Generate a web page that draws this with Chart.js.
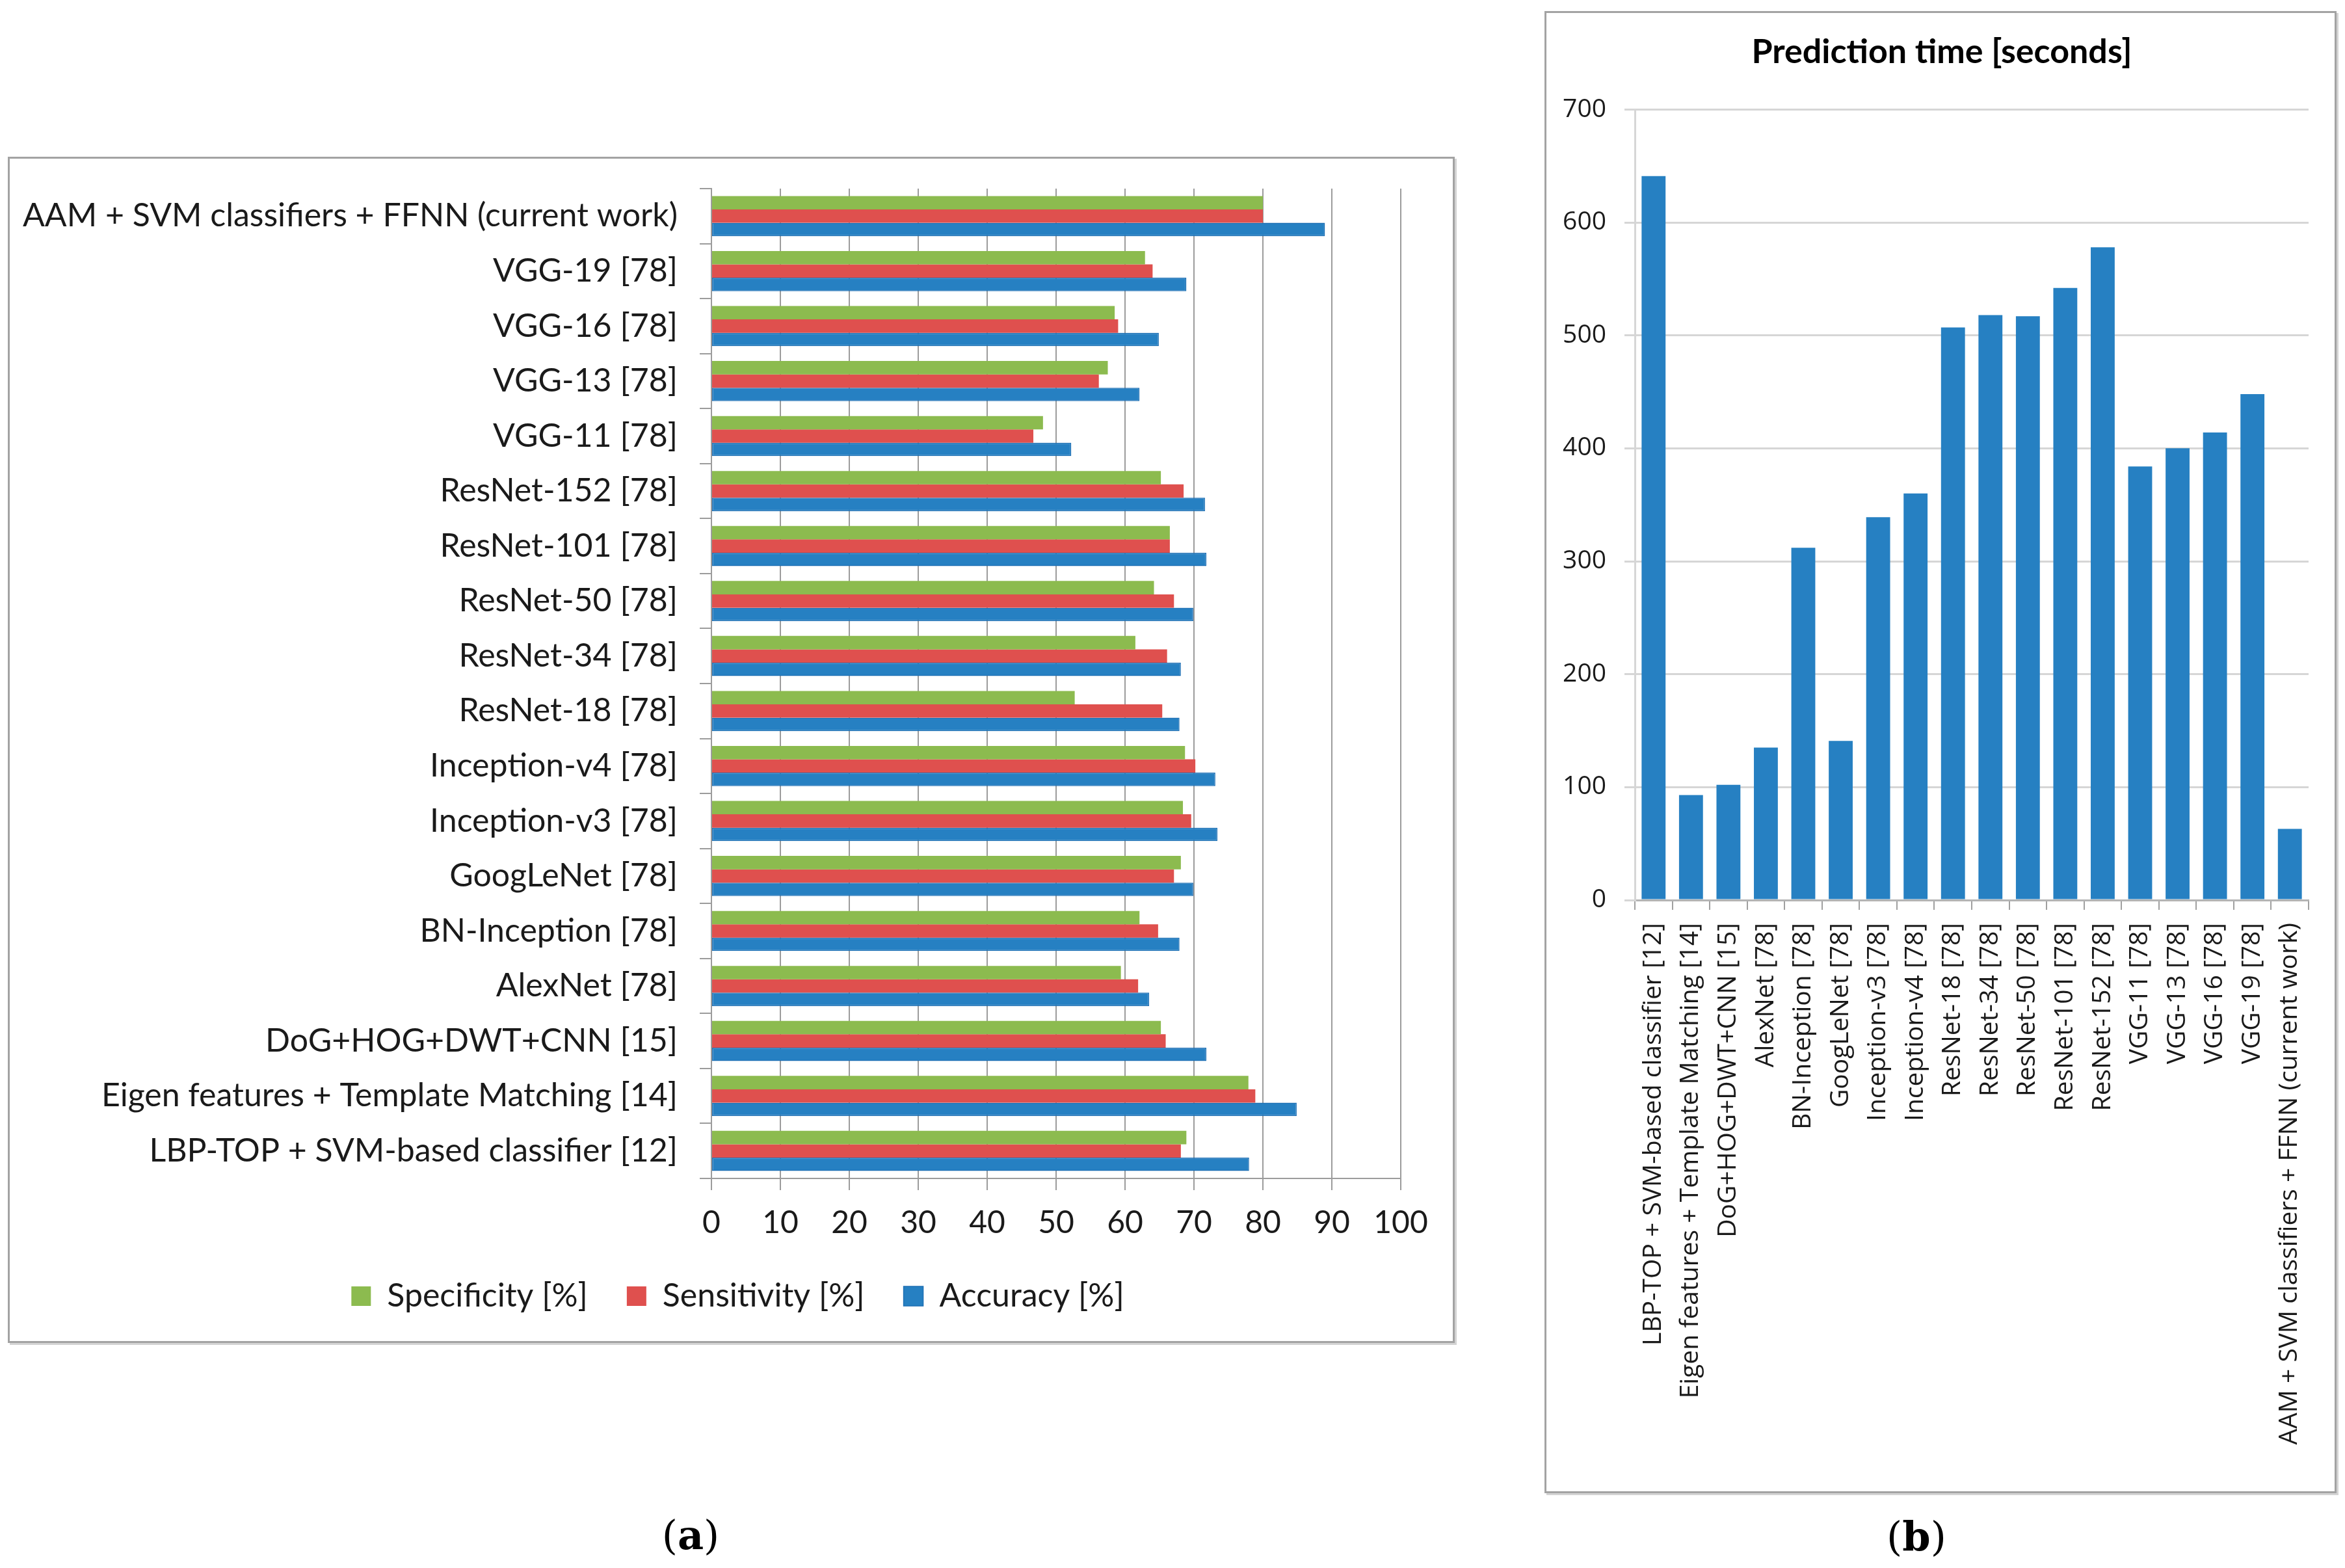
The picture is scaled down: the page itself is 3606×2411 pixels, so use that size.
<!DOCTYPE html>
<html>
<head>
<meta charset="utf-8">
<script src="https://cdn.jsdelivr.net/npm/chart.js@4.4.1/dist/chart.umd.min.js"></script>
<style>
  html, body { margin: 0; padding: 0; background: #fff; }
  body { width: 3606px; height: 2411px; position: relative; overflow: hidden; }
  .frame { position: absolute; box-sizing: border-box; border: 3px solid #a3a3a3; box-shadow: 3px 3px 0 #d4d4d4; background: #fff; }
  canvas { position: absolute; left: 0; top: 0; }
  .cap { position: absolute; font-family: "DejaVu Serif", "Liberation Serif", serif; font-size: 62px; color: #000; transform: translate(-50%, -50%); }
  .cap b { font-weight: bold; }
</style>
</head>
<body>
<div class="frame" style="left:12px; top:241px; width:2225px; height:1824px;">
  <canvas id="leftChart" width="2219" height="1818"></canvas>
</div>
<div class="frame" style="left:2375px; top:17px; width:1218px; height:2279px;">
  <canvas id="rightChart" width="1212" height="2273"></canvas>
</div>
<div class="cap" style="left:1062px; top:2360px;">(<b>a</b>)</div>
<div class="cap" style="left:2947px; top:2362px;">(<b>b</b>)</div>

<script>
const categories = [
  "LBP-TOP + SVM-based classifier [12]",
  "Eigen features + Template Matching [14]",
  "DoG+HOG+DWT+CNN [15]",
  "AlexNet [78]",
  "BN-Inception [78]",
  "GoogLeNet [78]",
  "Inception-v3 [78]",
  "Inception-v4 [78]",
  "ResNet-18 [78]",
  "ResNet-34 [78]",
  "ResNet-50 [78]",
  "ResNet-101 [78]",
  "ResNet-152 [78]",
  "VGG-11 [78]",
  "VGG-13 [78]",
  "VGG-16 [78]",
  "VGG-19 [78]",
  "AAM + SVM classifiers + FFNN (current work)",
];

const specificity = [68.9, 77.9, 65.2, 59.4, 62.1, 68.1, 68.4, 68.7, 52.7, 61.5, 64.2, 66.5, 65.2, 48.1, 57.5, 58.5, 62.9, 80.0];
const sensitivity = [68.1, 78.9, 65.9, 61.9, 64.8, 67.1, 69.6, 70.2, 65.4, 66.1, 67.1, 66.5, 68.5, 46.7, 56.2, 59.0, 64.0, 80.0];
const accuracy = [78.0, 84.9, 71.8, 63.5, 67.9, 69.9, 73.4, 73.1, 67.9, 68.1, 69.9, 71.8, 71.6, 52.2, 62.1, 64.9, 68.9, 89.0];
const predictionTime = [641, 93, 102, 135, 312, 141, 339, 360, 507, 518, 517, 542, 578, 384, 400, 414, 448, 63];

const percentTicks = [0, 10, 20, 30, 40, 50, 60, 70, 80, 90, 100];
const timeTicks = [0, 100, 200, 300, 400, 500, 600, 700];

const GREEN = "#8cbb4f";
const RED = "#df504e";
const BLUE = "#2680c2";

// move the legend / title box after layout (Excel places them off-centre)
function nudge(which, dx, dy) {
  return {
    id: "nudge_" + which,
    afterLayout(chart) {
      const box = which === "legend" ? chart.legend : chart.titleBlock;
      if (!box) return;
      box.left += dx;
      box.right += dx;
      box.top += dy;
      box.bottom += dy;
    },
  };
}

// (a) horizontal grouped bars
new Chart(document.getElementById("leftChart"), {
  type: "bar",
  data: {
    labels: categories,
    datasets: [
      { label: "Specificity [%]", data: specificity, backgroundColor: GREEN, borderWidth: 0 },
      { label: "Sensitivity [%]", data: sensitivity, backgroundColor: RED, borderWidth: 0 },
      { label: "Accuracy [%]", data: accuracy, backgroundColor: BLUE, borderColor: "#1d6fb4", borderWidth: 1.5, borderSkipped: false },
    ],
  },
  options: {
    indexAxis: "y",
    responsive: false,
    animation: false,
    devicePixelRatio: 1,
    categoryPercentage: 0.73,
    barPercentage: 1.0,
    layout: { padding: { top: 46, right: 80, bottom: 0, left: 0 } },
    scales: {
      x: {
        min: percentTicks[0],
        max: percentTicks[percentTicks.length - 1],
        ticks: {
          stepSize: percentTicks[1] - percentTicks[0],
          font: { family: "Lato", size: 48 },
          color: "#1a1a1a",
          padding: 22,
        },
        grid: { color: "#9c9c9c", lineWidth: 2, tickLength: 18 },
        border: { color: "#9c9c9c", width: 2 },
        afterFit: (scale) => { scale.height = 130; },
      },
      y: {
        reverse: true,
        ticks: {
          font: { family: "Lato", size: 50 },
          color: "#1a1a1a",
          padding: 34,
          autoSkip: false,
        },
        grid: { drawOnChartArea: false, color: "#9c9c9c", lineWidth: 2, tickLength: 18, offset: true },
        border: { color: "#9c9c9c", width: 2 },
        afterFit: (scale) => {
          scale.width = 1079;
          // labels sit inside the offset categories, no extra room needed above/below
          scale.paddingTop = 0;
          scale.paddingBottom = 0;
        },
      },
    },
    plugins: {
      legend: {
        position: "bottom",
        labels: {
          font: { family: "Lato", size: 50 },
          color: "#1a1a1a",
          boxWidth: 30,
          boxHeight: 30,
          padding: 60,
        },
      },
      tooltip: { enabled: false },
    },
    events: [],
  },
  plugins: [nudge("legend", 50, -34)],
});

// (b) prediction time columns
new Chart(document.getElementById("rightChart"), {
  type: "bar",
  data: {
    labels: categories,
    datasets: [
      { label: "Prediction time [seconds]", data: predictionTime, backgroundColor: BLUE, borderWidth: 0 },
    ],
  },
  options: {
    responsive: false,
    animation: false,
    devicePixelRatio: 1,
    categoryPercentage: 0.64,
    barPercentage: 1.0,
    layout: { padding: { top: 18, right: 40, bottom: 0, left: 0 } },
    scales: {
      x: {
        ticks: {
          font: { family: "Open Sans", size: 39 },
          color: "#1a1a1a",
          minRotation: 90,
          maxRotation: 90,
          autoSkip: false,
          padding: 20,
        },
        grid: { drawOnChartArea: false, color: "#a0a0a0", lineWidth: 2, tickLength: 15, offset: true },
        border: { color: "#b4b4b4", width: 3 },
        afterFit: (scale) => { scale.height = 909; },
      },
      y: {
        min: timeTicks[0],
        max: timeTicks[timeTicks.length - 1],
        ticks: {
          stepSize: timeTicks[1] - timeTicks[0],
          font: { family: "Open Sans", size: 39 },
          color: "#1a1a1a",
          padding: 28,
        },
        grid: { color: "#d6d6d6", lineWidth: 3, tickLength: 16 },
        border: { color: "#d6d6d6", width: 3 },
        afterFit: (scale) => { scale.width = 136; },
      },
    },
    plugins: {
      legend: { display: false },
      title: {
        display: true,
        text: "Prediction time [seconds]",
        font: { family: "Lato", size: 52, weight: "bold" },
        color: "#000",
        padding: { top: 11, bottom: 57 },
      },
      tooltip: { enabled: false },
    },
    events: [],
  },
  plugins: [nudge("title", 22, 0)],
});
</script>
</body>
</html>
